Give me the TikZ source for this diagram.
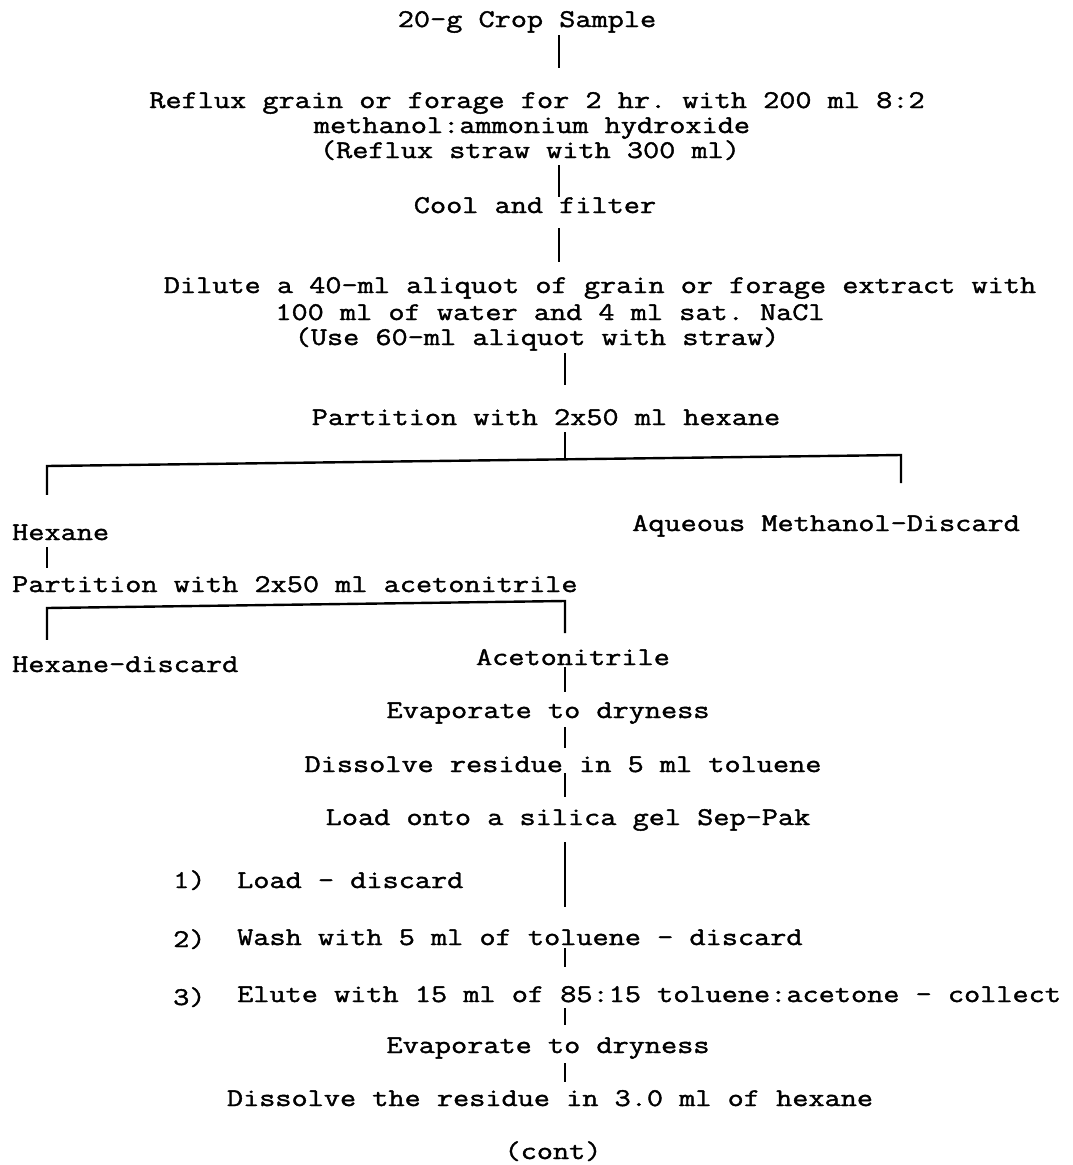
\documentclass[tikz,border=0pt]{standalone}
\usepackage{fontspec}
\usepackage{tikz}
\setmonofont[FakeStretch=1.23,FakeBold=1.5]{Latin Modern Mono}

\begin{document}
\begin{tikzpicture}[x=1pt, y=-1pt,
	txt/.style={inner sep=0pt, anchor=base, text height=14pt, text depth=5pt, font=\ttfamily\fontsize{25.5}{25}\selectfont},
	txtl/.style={txt, anchor=base west},
	link/.style={line width=1.1pt},
	branch/.style={line width=2.4pt, line join=miter}]
	\useasboundingbox (0,0) rectangle (1073,1165);
	\coordinate (trunkA) at (559,0);
	\coordinate (trunkB) at (565,0);
	%%
	\node[txt] (crop) at (527,27) {20-g Crop Sample};
	\node[txt] (reflux1) at (537,108) {Reflux grain or forage for 2 hr. with 200 ml 8:2};
	\node[txt] (reflux2) at (532,133) {methanol:ammonium hydroxide};
	\node[txt] (reflux3) at (530,158) {(Reflux straw with 300 ml)};
	\node[txt] (cool) at (535,213) {Cool and filter};
	\node[txt] (dil1) at (600,293) {Dilute a 40-ml aliquot of grain or forage extract with};
	\node[txt] (dil2) at (550,320) {100 ml of water and 4 ml sat. NaCl};
	\node[txt] (dil3) at (537,345) {(Use 60-ml aliquot with straw)};
	\node[txt] (parthex) at (546,425) {Partition with 2x50 ml hexane};
	%%
	\node[txtl] (hexane) at (12,540) {Hexane};
	\node[txtl] (aqueous) at (632,531) {Aqueous Methanol-Discard};
	\node[txtl] (partacn) at (12,592) {Partition with 2x50 ml acetonitrile};
	\node[txtl] (hexdisc) at (12,672) {Hexane-discard};
	\node[txt] (acn) at (573,665) {Acetonitrile};
	%%
	\node[txt] (evap1) at (548,718) {Evaporate to dryness};
	\node[txt] (diss1) at (563,772) {Dissolve residue in 5 ml toluene};
	\node[txt] (load) at (568,825) {Load onto a silica gel Sep-Pak};
	\node[txtl] (num1) at (173,888) {1)};
	\node[txtl] (step1) at (237,888) {Load - discard};
	\node[txtl] (num2) at (173,947) {2)};
	\node[txtl] (step2) at (237,945) {Wash with 5 ml of toluene - discard};
	\node[txtl] (num3) at (173,1005) {3)};
	\node[txtl] (step3) at (237,1002) {Elute with 15 ml of 85:15 toluene:acetone - collect};
	\node[txt] (evap2) at (548,1053) {Evaporate to dryness};
	\node[txt] (diss2) at (550,1106) {Dissolve the residue in 3.0 ml of hexane};
	\node[txt] (cont) at (553,1159) {(cont)};
	%%
	\draw[link, shorten <=3pt, shorten >=26pt] (crop.south -| trunkA) -- (reflux1.north -| trunkA);
	\draw[link, shorten <=2pt, shorten >=2pt] (reflux3.south -| trunkA) -- (cool.north -| trunkA);
	\draw[link, shorten <=10pt, shorten >=17pt] (cool.south -| trunkA) -- (dil1.north -| trunkA);
	\draw[link, shorten <=3pt, shorten >=26pt] (dil3.south -| trunkB) -- (parthex.north -| trunkB);
	\draw[link, shorten <=2pt] (parthex.south -| trunkB) -- ++(0,29);
	%%
	\coordinate (splitAL) at (47,466);
	\coordinate (splitAR) at (901,455);
	\draw[branch] (hexane.north -| splitAL) ++(0,-31) -- (splitAL) -- (splitAR) -- ++(0,28);
	\draw[link, shorten <=2pt, shorten >=10pt] (hexane.south -| splitAL) -- (partacn.north -| splitAL);
	%%
	\coordinate (splitBL) at (47,608);
	\coordinate (splitBR) at (565,601);
	\draw[branch] (hexdisc.north -| splitBL) ++(0,-18) -- (splitBL) -- (splitBR) -- ++(0,32);
	%%
	\draw[link, shorten <=-3pt, shorten >=12pt] (acn.south -| trunkB) -- (evap1.north -| trunkB);
	\draw[link, shorten <=4pt, shorten >=10pt] (evap1.south -| trunkB) -- (diss1.north -| trunkB);
	\draw[link, shorten <=-4pt, shorten >=14pt] (diss1.south -| trunkB) -- (load.north -| trunkB);
	\draw[link, shorten <=12pt, shorten >=24pt] (load.south -| trunkB) -- (step2.north -| trunkB);
	\draw[link, shorten <=-2pt, shorten >=21pt] (step2.south -| trunkB) -- (step3.north -| trunkB);
	\draw[link, shorten <=1pt, shorten >=14pt] (step3.south -| trunkB) -- (evap2.north -| trunkB);
	\draw[link, shorten <=5pt, shorten >=10pt] (evap2.south -| trunkB) -- (diss2.north -| trunkB);
\end{tikzpicture}
\end{document}
